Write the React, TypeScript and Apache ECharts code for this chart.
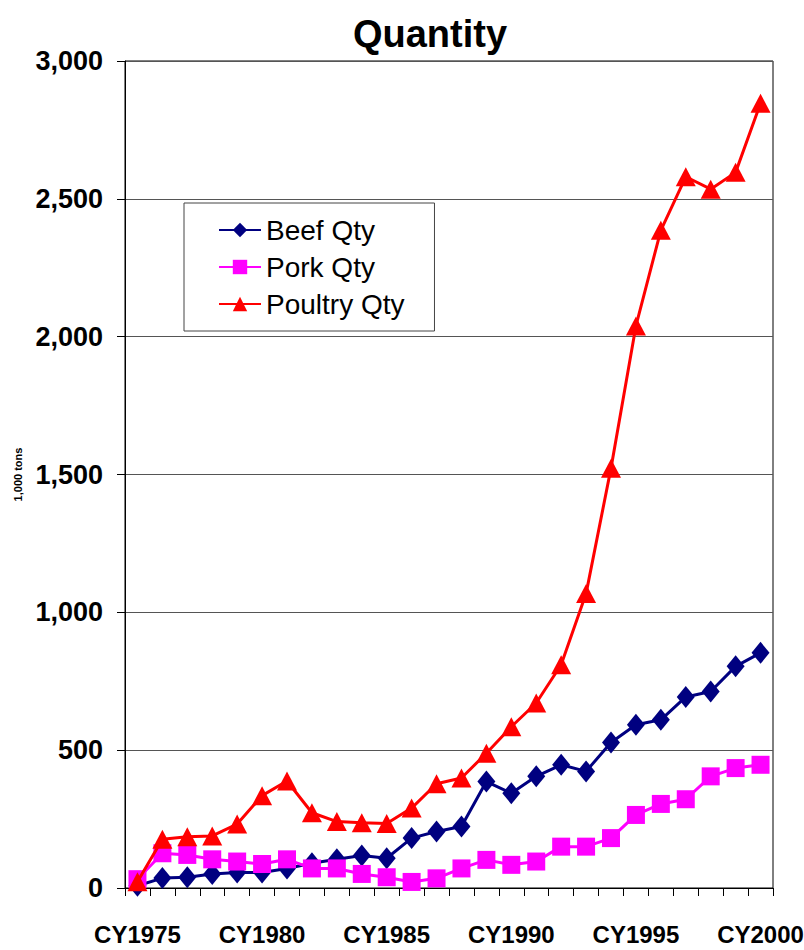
import React, { useEffect, useRef } from "react";
import * as echarts from "echarts";

const years = Array.from({ length: 26 }, (_, i) => `CY${1975 + i}`);
const beefQty = [8, 36, 39, 51, 56, 56, 71, 90, 104, 118, 108, 181, 205, 223, 386, 344, 405, 447, 423, 528, 592, 610, 693, 713, 804, 853];
const porkQty = [32, 126, 120, 104, 96, 87, 104, 71, 71, 51, 39, 22, 35, 71, 102, 84, 96, 150, 150, 181, 265, 305, 322, 405, 435, 447];
const poultryQty = [23, 177, 186, 189, 232, 335, 388, 273, 241, 237, 234, 290, 378, 399, 489, 585, 671, 810, 1068, 1523, 2039, 2386, 2580, 2535, 2596, 2847];
const yTicks = { min: 0, max: 3000, interval: 500 };

const font = "'Liberation Sans', Arial, sans-serif";

export default function App() {
  const ref = useRef<HTMLDivElement>(null);
  useEffect(() => {
    document.body.style.margin = "0";
    const chart = echarts.init(ref.current!, null, { renderer: "svg" });
    chart.setOption({
      animation: false,
      backgroundColor: "#fff",
      title: {
        text: "Quantity",
        left: 425,
        textAlign: "center",
        top: 10,
        textStyle: { fontFamily: font, fontWeight: "bold", fontSize: 38, color: "#000" },
      },
      grid: {
        left: 125,
        right: 31,
        top: 61,
        bottom: 62,
        show: true,
        borderColor: "#000",
        borderWidth: 1,
        containLabel: false,
        outerBoundsMode: "none",
      },
      legend: {
        orient: "vertical",
        left: 184,
        top: 203,
        padding: [13, 30, 13, 34],
        itemGap: 9,
        itemWidth: 42,
        itemHeight: 18,
        borderColor: "#444",
        borderWidth: 1,
        backgroundColor: "#fff",
        textStyle: { fontFamily: font, fontSize: 28, color: "#000" },
        data: ["Beef Qty", "Pork Qty", "Poultry Qty"],
      },
      xAxis: {
        type: "category",
        data: years,
        boundaryGap: true,
        axisLine: { lineStyle: { color: "#000", width: 1 } },
        axisTick: { show: true, interval: 0, length: 8, lineStyle: { color: "#000" } },
        axisLabel: {
          interval: 4,
          hideOverlap: false,
          margin: 34,
          fontFamily: font,
          fontWeight: "bold",
          fontSize: 24,
          color: "#000",
        },
        splitLine: { show: false },
      },
      yAxis: {
        type: "value",
        min: yTicks.min,
        max: yTicks.max,
        interval: yTicks.interval,
        name: "1,000 tons",
        nameLocation: "middle",
        nameGap: 102,
        nameTextStyle: { fontFamily: font, fontWeight: "bold", fontSize: 11, color: "#000" },
        axisLine: { show: true, lineStyle: { color: "#000", width: 1 } },
        axisTick: { show: true, length: 8, lineStyle: { color: "#000" } },
        axisLabel: {
          margin: 22,
          fontFamily: font,
          fontWeight: "bold",
          fontSize: 27,
          color: "#000",
          formatter: (v: number) => v.toLocaleString("en-US"),
        },
        splitLine: { show: true, lineStyle: { color: "#555", width: 1 } },
      },
      series: [
        {
          name: "Beef Qty",
          type: "line",
          data: beefQty,
          symbol: "diamond",
          showAllSymbol: true,
          symbolSize: [18, 22],
          lineStyle: { color: "#000080", width: 3 },
          itemStyle: { color: "#000080" },
          z: 3,
        },
        {
          name: "Pork Qty",
          type: "line",
          data: porkQty,
          symbol: "rect",
          showAllSymbol: true,
          symbolSize: 18,
          lineStyle: { color: "#FF00FF", width: 3 },
          itemStyle: { color: "#FF00FF" },
          z: 4,
        },
        {
          name: "Poultry Qty",
          type: "line",
          data: poultryQty,
          symbol: "triangle",
          showAllSymbol: true,
          symbolSize: [20, 19],
          lineStyle: { color: "#FF0000", width: 3 },
          itemStyle: { color: "#FF0000" },
          z: 5,
        },
      ],
    });
    return () => chart.dispose();
  }, []);
  return <div ref={ref} style={{ width: 804, height: 950 }} />;
}
